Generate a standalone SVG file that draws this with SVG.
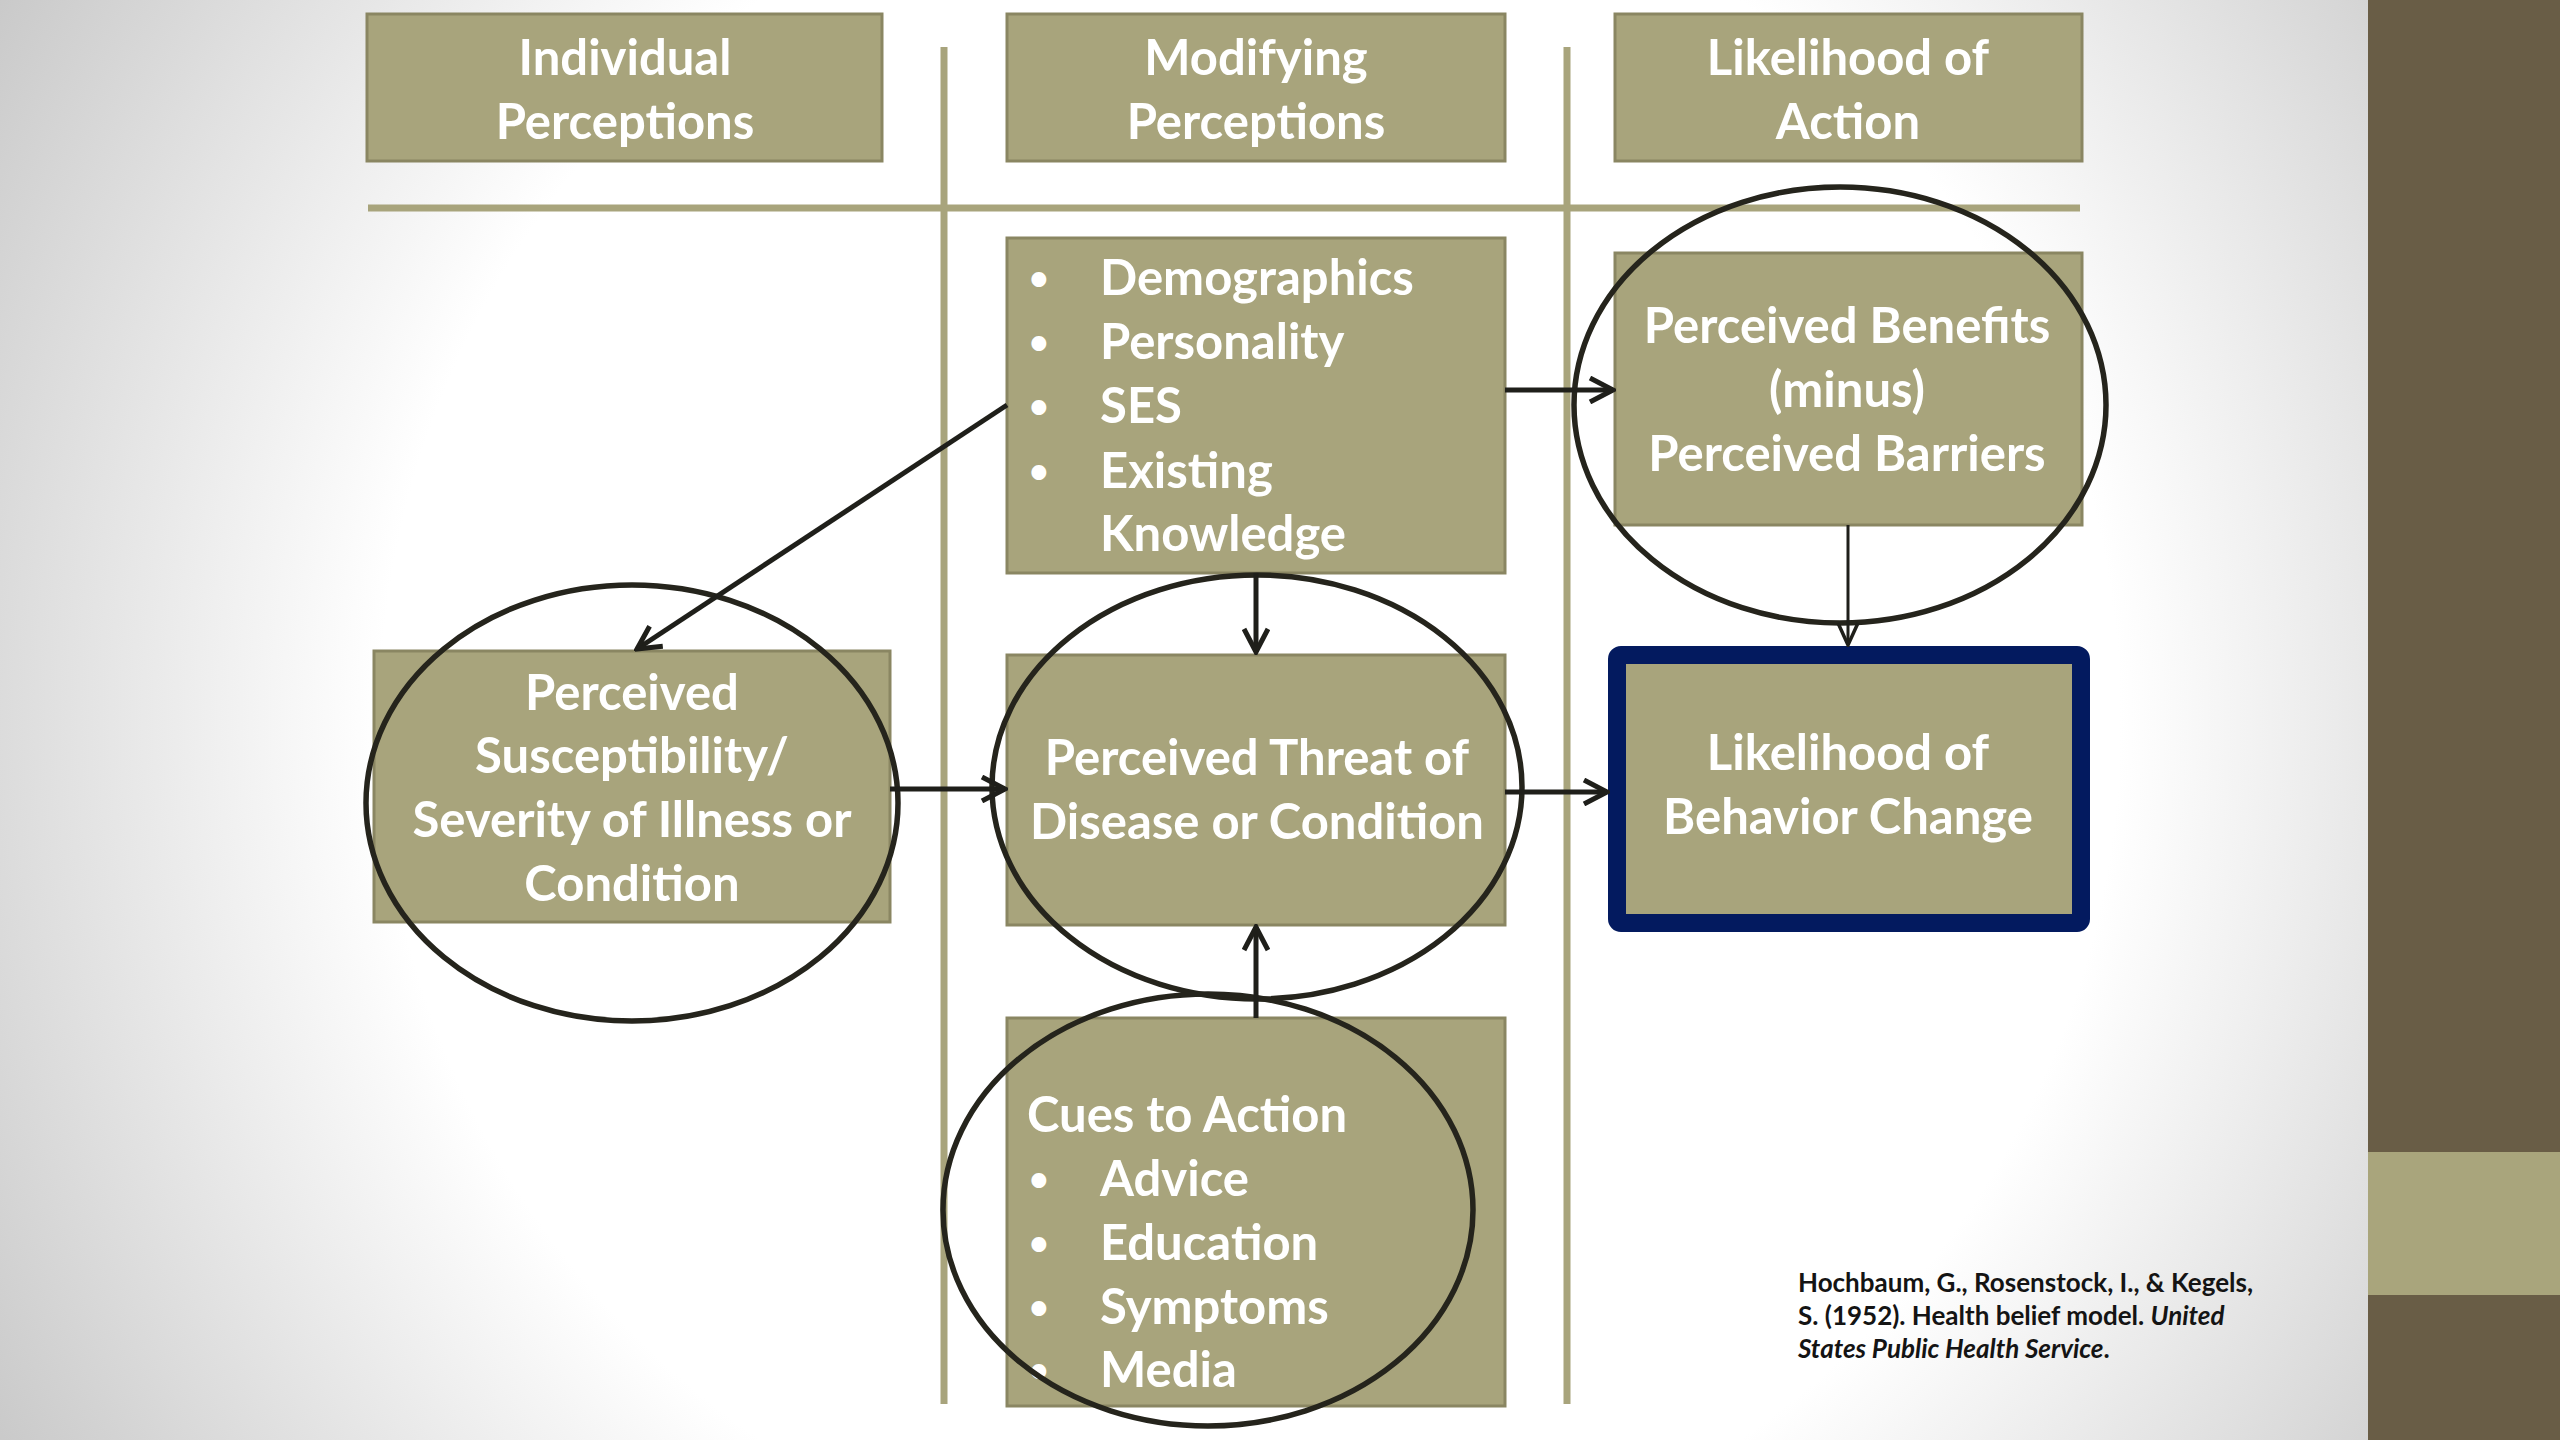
<svg xmlns="http://www.w3.org/2000/svg" width="2560" height="1440" viewBox="0 0 2560 1440">
  <style>
    .box { fill: #a8a47c; stroke: #8a8662; stroke-width: 3; }
    .lbl { font-family: Lato, "Liberation Sans", sans-serif; font-weight: bold; font-size: 49px; fill: #ffffff; }
    .bul { font-family: Lato, "Liberation Sans", sans-serif; font-weight: bold; font-size: 34px; fill: #ffffff; }
    .mid { text-anchor: middle; }
    .ring { fill: none; stroke: #25241c; stroke-width: 5.5; }
    .sep { stroke: #a8a47c; stroke-width: 7; fill: none; }
    .conn { stroke: #1f1f1a; stroke-width: 5; fill: none; marker-end: url(#arr); }
    .conn-thin { stroke: #1f1f1a; stroke-width: 3; fill: none; marker-end: url(#arrThin); }
    .cite { font-family: Lato, "Liberation Sans", sans-serif; font-weight: bold; font-size: 26px; fill: #141414; }
  </style>
  <defs>
    <radialGradient id="bg" cx="1250" cy="720" r="1450" gradientUnits="userSpaceOnUse">
      <stop offset="0.6" stop-color="#ffffff"/>
      <stop offset="1" stop-color="#c9c9c9"/>
    </radialGradient>
    <marker id="arr" viewBox="0 0 28 28" refX="25" refY="14" markerWidth="28" markerHeight="28" markerUnits="userSpaceOnUse" orient="auto">
      <path d="M2,2 L25,14 L2,26" fill="none" stroke="#1f1f1a" stroke-width="5" stroke-linejoin="miter"/>
    </marker>
    <marker id="arrThin" viewBox="0 0 26 26" refX="24" refY="13" markerWidth="26" markerHeight="26" markerUnits="userSpaceOnUse" orient="auto">
      <path d="M2,3 L24,13 L2,23" fill="none" stroke="#1f1f1a" stroke-width="3.5"/>
    </marker>
  </defs>

  <rect x="0" y="0" width="2560" height="1440" fill="url(#bg)"/>
  <g id="sidebar">
    <rect x="2368" y="0" width="192" height="1440" fill="#695d46"/>
    <rect x="2368" y="1152" width="192" height="143" fill="#a9a57c"/>
  </g>

  <g id="separators">
    <line class="sep" x1="368" y1="208" x2="2080" y2="208"/>
    <line class="sep" x1="944" y1="47" x2="944" y2="1404"/>
    <line class="sep" x1="1567" y1="47" x2="1567" y2="1404"/>
  </g>

  <g id="hdr-individual">
    <rect class="box" x="367" y="14" width="515" height="147"/>
    <text class="lbl mid" x="625" y="75">Individual</text>
    <text class="lbl mid" x="625" y="139">Perceptions</text>
  </g>
  <g id="hdr-modifying">
    <rect class="box" x="1007" y="14" width="498" height="147"/>
    <text class="lbl mid" x="1256" y="75">Modifying</text>
    <text class="lbl mid" x="1256" y="139">Perceptions</text>
  </g>
  <g id="hdr-likelihood">
    <rect class="box" x="1615" y="14" width="467" height="147"/>
    <text class="lbl mid" x="1848" y="75">Likelihood of</text>
    <text class="lbl mid" x="1848" y="139">Action</text>
  </g>

  <g id="modifying-factors">
    <rect class="box" x="1007" y="238" width="498" height="335"/>
    <text class="bul" x="1029" y="290">•</text>
    <text class="lbl" x="1100" y="295">Demographics</text>
    <text class="bul" x="1029" y="354">•</text>
    <text class="lbl" x="1100" y="359">Personality</text>
    <text class="bul" x="1029" y="418">•</text>
    <text class="lbl" x="1100" y="423">SES</text>
    <text class="bul" x="1029" y="483">•</text>
    <text class="lbl" x="1100" y="488">Existing</text>
    <text class="lbl" x="1100" y="551">Knowledge</text>
  </g>

  <g id="benefits-barriers">
    <rect class="box" x="1615" y="253" width="467" height="272"/>
    <text class="lbl mid" x="1847" y="343">Perceived Benefits</text>
    <text class="lbl mid" x="1847" y="407">(minus)</text>
    <text class="lbl mid" x="1847" y="471">Perceived Barriers</text>
    <ellipse class="ring" cx="1840" cy="405" rx="266" ry="218"/>
  </g>

  <g id="susceptibility">
    <rect class="box" x="374" y="651" width="516" height="271"/>
    <text class="lbl mid" x="632" y="710">Perceived</text>
    <text class="lbl mid" x="632" y="773">Susceptibility/</text>
    <text class="lbl mid" x="632" y="837">Severity of Illness or</text>
    <text class="lbl mid" x="632" y="901">Condition</text>
    <ellipse class="ring" cx="632" cy="803" rx="266" ry="218"/>
  </g>

  <g id="threat">
    <rect class="box" x="1007" y="655" width="498" height="270"/>
    <text class="lbl mid" x="1257" y="775">Perceived Threat of</text>
    <text class="lbl mid" x="1257" y="839">Disease or Condition</text>
    <ellipse class="ring" cx="1257" cy="787" rx="265" ry="212"/>
  </g>

  <g id="behavior-change">
    <rect x="1617" y="655" width="464" height="268" rx="4" fill="#a8a47c" stroke="#031a5f" stroke-width="18"/>
    <text class="lbl mid" x="1848" y="770">Likelihood of</text>
    <text class="lbl mid" x="1848" y="834">Behavior Change</text>
  </g>

  <g id="cues">
    <rect class="box" x="1007" y="1018" width="498" height="388"/>
    <text class="lbl" x="1027" y="1132">Cues to Action</text>
    <text class="bul" x="1029" y="1191">•</text>
    <text class="lbl" x="1100" y="1196">Advice</text>
    <text class="bul" x="1029" y="1255">•</text>
    <text class="lbl" x="1100" y="1260">Education</text>
    <text class="bul" x="1029" y="1319">•</text>
    <text class="lbl" x="1100" y="1324">Symptoms</text>
    <text class="bul" x="1029" y="1382">•</text>
    <text class="lbl" x="1100" y="1387">Media</text>
    <ellipse class="ring" cx="1208" cy="1210" rx="265" ry="216"/>
  </g>

  <g id="connectors">
    <line class="conn" x1="1007" y1="405" x2="637" y2="649"/>
    <line class="conn" x1="1505" y1="390" x2="1613" y2="390"/>
    <line class="conn" x1="1256" y1="573" x2="1256" y2="652"/>
    <line class="conn-thin" x1="1848" y1="525" x2="1848" y2="645"/>
    <line class="conn" x1="890" y1="789" x2="1005" y2="789"/>
    <line class="conn" x1="1505" y1="792" x2="1607" y2="792"/>
    <line class="conn" x1="1256" y1="1018" x2="1256" y2="927"/>
  </g>

  <g id="citation">
    <text class="cite" x="1798" y="1292">Hochbaum, G., Rosenstock, I., &amp; Kegels,</text>
    <text class="cite" x="1798" y="1325">S. (1952). Health belief model. <tspan font-style="italic">United</tspan></text>
    <text class="cite" x="1798" y="1358"><tspan font-style="italic">States Public Health Service</tspan>.</text>
  </g>
</svg>
